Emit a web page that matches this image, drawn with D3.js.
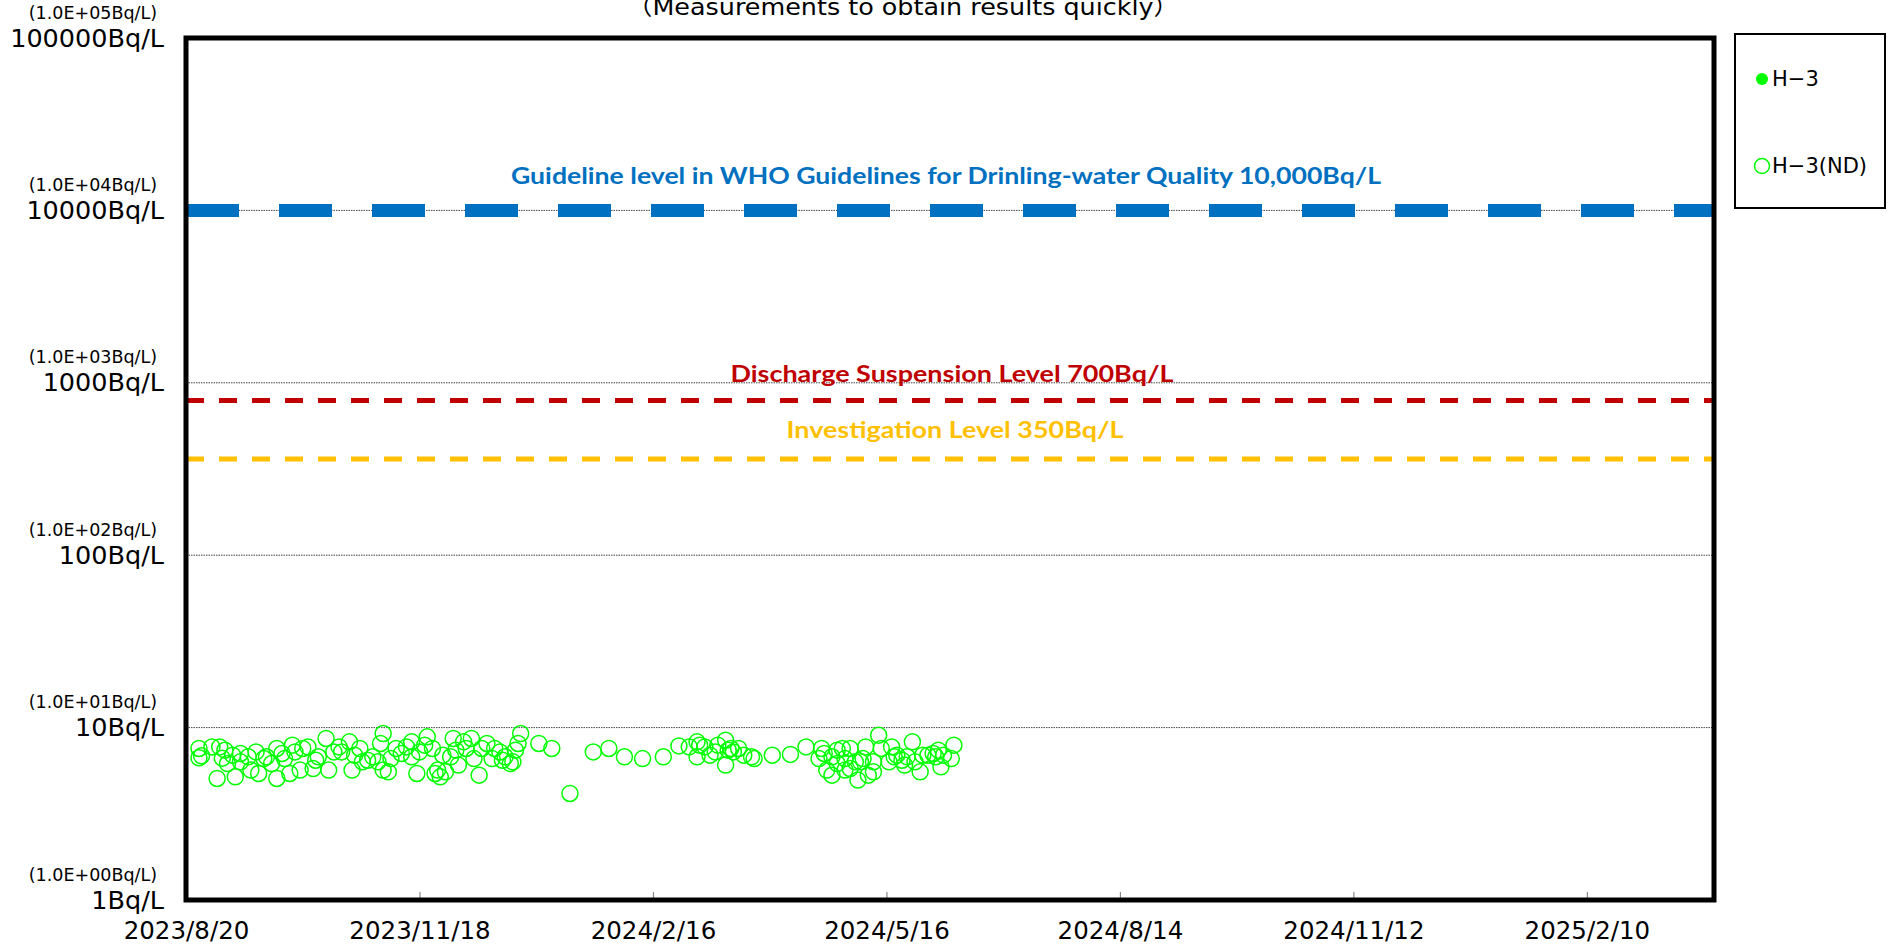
<!DOCTYPE html>
<html>
<head>
<meta charset="utf-8">
<style>
    body { margin: 0; background: white; }
    svg { display: block; }
    .axisText { font-family: "DejaVu Sans", "Noto Sans CJK JP", sans-serif; fill: black; }
    .note { font-family: Lato, "Noto Sans", sans-serif; font-weight: bold; }
</style>
<script src="https://cdn.jsdelivr.net/npm/d3@7"></script>
</head>
<body>
<svg id="chart"></svg>
<script>

// sample dates and H-3 results (all below detection limit, drawn as open circles)
let sampleDates = [
  "2023-08-25","2023-08-25","2023-08-26","2023-08-30","2023-09-01","2023-09-02","2023-09-03","2023-09-04",
  "2023-09-05","2023-09-07","2023-09-08","2023-09-10","2023-09-10","2023-09-13","2023-09-14","2023-09-16",
  "2023-09-17","2023-09-19","2023-09-20","2023-09-22","2023-09-24","2023-09-24","2023-09-26","2023-09-27",
  "2023-09-29","2023-09-30","2023-10-01","2023-10-03","2023-10-04","2023-10-06","2023-10-08","2023-10-09",
  "2023-10-10","2023-10-13","2023-10-14","2023-10-16","2023-10-18","2023-10-19","2023-10-22","2023-10-23",
  "2023-10-24","2023-10-26","2023-10-27","2023-10-29","2023-10-31","2023-11-02","2023-11-03","2023-11-04",
  "2023-11-04","2023-11-06","2023-11-07","2023-11-09","2023-11-11","2023-11-13","2023-11-15","2023-11-15",
  "2023-11-17","2023-11-18","2023-11-20","2023-11-21","2023-11-23","2023-11-24","2023-11-25","2023-11-26",
  "2023-11-27","2023-11-28","2023-11-30","2023-12-01","2023-12-02","2023-12-03","2023-12-05","2023-12-06",
  "2023-12-08","2023-12-09","2023-12-11","2023-12-12","2023-12-14","2023-12-16","2023-12-17","2023-12-19",
  "2023-12-20","2023-12-21","2023-12-23","2023-12-24","2023-12-25","2023-12-26","2023-12-27","2024-01-03",
  "2024-01-08","2024-01-15","2024-01-24","2024-01-30","2024-02-05","2024-02-12","2024-02-20","2024-02-26",
  "2024-03-01","2024-03-04","2024-03-04","2024-03-05","2024-03-07","2024-03-09","2024-03-11","2024-03-12",
  "2024-03-15","2024-03-15","2024-03-16","2024-03-17","2024-03-18","2024-03-20","2024-03-22","2024-03-25",
  "2024-03-26","2024-04-02","2024-04-09","2024-04-15","2024-04-20","2024-04-21","2024-04-22","2024-04-23",
  "2024-04-25","2024-04-25","2024-04-27","2024-04-27","2024-04-29","2024-04-30","2024-04-30","2024-05-02",
  "2024-05-02","2024-05-04","2024-05-05","2024-05-06","2024-05-07","2024-05-08","2024-05-09","2024-05-11",
  "2024-05-11","2024-05-13","2024-05-14","2024-05-17","2024-05-18","2024-05-19","2024-05-20","2024-05-22",
  "2024-05-23","2024-05-24","2024-05-26","2024-05-27","2024-05-29","2024-05-30","2024-06-01","2024-06-03",
  "2024-06-04","2024-06-05","2024-06-06","2024-06-07","2024-06-10","2024-06-11"
]

let h3NdValues = [
  6.68,7.57,6.86,7.73,5.07,7.73,6.65,7.40,
  6.19,6.92,5.18,7.08,6.33,6.77,5.67,7.23,
  5.42,6.61,6.77,6.19,7.57,5.07,7.08,6.61,
  5.42,7.91,7.23,5.67,7.57,7.73,5.79,6.47,
  6.77,8.65,5.67,7.23,7.73,7.23,8.27,5.67,
  6.92,7.57,6.33,6.47,6.77,6.33,8.09,9.24,
  5.67,5.54,6.61,7.57,7.08,7.73,8.27,6.77,
  5.42,7.23,7.91,8.84,7.57,5.42,5.67,5.18,
  6.92,5.54,6.77,8.65,7.40,6.06,8.27,7.57,
  8.65,6.61,5.30,7.57,8.09,6.61,7.57,7.23,
  6.47,6.77,6.19,6.33,7.40,8.09,9.24,8.09,
  7.57,4.15,7.23,7.57,6.77,6.61,6.77,7.83,
  7.73,8.27,6.77,7.91,7.73,6.92,7.23,7.91,
  8.45,6.06,7.40,7.57,7.23,7.57,6.92,6.77,
  6.61,6.92,6.99,7.73,6.61,7.57,7.08,5.67,
  5.30,6.77,7.40,6.19,7.57,5.67,6.61,7.57,
  5.79,6.33,4.96,6.33,6.61,7.73,5.30,5.54,
  6.33,9.04,7.57,6.33,7.73,6.77,6.92,6.47,
  6.06,6.77,8.27,6.33,5.54,6.92,6.92,7.08,
  6.77,7.40,5.92,6.92,6.61,7.91
]

// detected values: none in this period
let h3Values = []

let xTickLabels = ["2023/8/20","2023/11/18","2024/2/16","2024/5/16","2024/8/14","2024/11/12","2025/2/10"]
let xRange = ["2023/8/20", "2025/3/31"]

let yTicks = [1, 10, 100, 1000, 10000, 100000]
let yTickNotes = ["(1.0E+00Bq/L)","(1.0E+01Bq/L)","(1.0E+02Bq/L)","(1.0E+03Bq/L)","(1.0E+04Bq/L)","(1.0E+05Bq/L)"]

// reference lines; the lower two sit where they were drawn in the original
let levelNames = ["Guideline level in WHO Guidelines for Drinling-water Quality 10,000Bq/L",
                  "Discharge Suspension Level 700Bq/L",
                  "Investigation Level 350Bq/L"]
let levelValues = [10000, 790, 362]
let levelColors = ["#0070C0", "#C00000", "#FFC000"]

let legendNames = ["H\u22123", "H\u22123(ND)"]

let width = 1890, height = 949
let plotLeft = 186, plotTop = 38, plotRight = 1714, plotBottom = 900

let parseDate = d3.timeParse("%Y-%m-%d")
let parseTick = d3.timeParse("%Y/%m/%d")

let svg = d3.select("#chart").attr("width", width).attr("height", height)

let x = d3.scaleTime()
    .domain(xRange.map(parseTick))
    .range([plotLeft, plotRight])

let y = d3.scaleLog()
    .domain([1, 100000])
    .range([plotBottom, plotTop])

// dotted decade gridlines
svg.append("g")
    .selectAll("line")
    .data(yTicks.filter(d => d > 1 && d < 100000))
    .enter().append("line")
    .attr("x1", plotLeft).attr("x2", plotRight)
    .attr("y1", d => y(d)).attr("y2", d => y(d))
    .attr("stroke", "#444")
    .attr("stroke-width", 1)
    .attr("stroke-dasharray", "1.5,1")

// x axis with small inward ticks
let xAxis = d3.axisBottom(x)
    .tickValues(xTickLabels.map(parseTick))
    .tickSizeInner(-8)
    .tickSizeOuter(0)
    .tickPadding(22)
    .tickFormat(d3.timeFormat("%Y/%-m/%-d"))

let gx = svg.append("g")
    .attr("transform", `translate(0,${plotBottom})`)
    .call(xAxis)
gx.select(".domain").remove()
gx.selectAll(".tick line").attr("stroke", "#888").attr("stroke-width", 1.2)
gx.selectAll(".tick text")
    .attr("class", "axisText")
    .attr("font-size", 24.5)

// y axis: big label plus exponent note above it
let yAxis = d3.axisLeft(y)
    .tickValues(yTicks)
    .tickSize(0)
    .tickPadding(22)
    .tickFormat(d => d + "Bq/L")

let gy = svg.append("g")
    .attr("transform", `translate(${plotLeft},0)`)
    .call(yAxis)
gy.select(".domain").remove()
gy.selectAll(".tick text")
    .attr("class", "axisText")
    .attr("font-size", 25.5)
gy.selectAll(".tick")
    .append("text")
    .attr("class", "axisText")
    .attr("x", -29)
    .attr("y", -25.5)
    .attr("dy", "0.32em")
    .attr("text-anchor", "end")
    .attr("font-size", 17.5)
    .text((d, i) => yTickNotes[i])

// level lines
let dashes = ["53,40", "18,15", "18,15"]
let widths = [13, 5, 5]
svg.append("g")
    .selectAll("line")
    .data(levelValues)
    .enter().append("line")
    .attr("x1", plotLeft).attr("x2", plotRight)
    .attr("y1", d => y(d)).attr("y2", d => y(d))
    .attr("stroke", (d, i) => levelColors[i])
    .attr("stroke-width", (d, i) => widths[i])
    .attr("stroke-dasharray", (d, i) => dashes[i])

let notePos = [[946, 176, 870], [952, 374, 443], [955, 430, 337]]
svg.append("g")
    .selectAll("text")
    .data(levelNames)
    .enter().append("text")
    .attr("class", "note")
    .attr("x", (d, i) => notePos[i][0])
    .attr("y", (d, i) => notePos[i][1])
    .attr("dy", "0.35em")
    .attr("text-anchor", "middle")
    .attr("font-size", 23)
    .attr("textLength", (d, i) => notePos[i][2])
    .attr("lengthAdjust", "spacingAndGlyphs")
    .attr("fill", (d, i) => levelColors[i])
    .text(d => d)

// data points
let points = sampleDates.map((d, i) => ({date: parseDate(d), value: h3NdValues[i]}))

svg.append("g")
    .selectAll("circle")
    .data(points)
    .enter().append("circle")
    .attr("cx", d => x(d.date))
    .attr("cy", d => y(d.value))
    .attr("r", 8)
    .attr("fill", "none")
    .attr("stroke", "#00ff00")
    .attr("stroke-width", 1.5)

svg.append("g")
    .selectAll("circle")
    .data(h3Values)
    .enter().append("circle")
    .attr("cx", d => x(parseDate(d.date)))
    .attr("cy", d => y(d.value))
    .attr("r", 6)
    .attr("fill", "#00ff00")

// plot frame
svg.append("rect")
    .attr("x", plotLeft).attr("y", plotTop)
    .attr("width", plotRight - plotLeft).attr("height", plotBottom - plotTop)
    .attr("fill", "none")
    .attr("stroke", "black")
    .attr("stroke-width", 5)

// title, cut off at the top edge like the original
svg.append("text")
    .attr("class", "axisText")
    .attr("x", 903)
    .attr("y", 15)
    .attr("text-anchor", "middle")
    .attr("font-size", 23)
    .attr("textLength", 552)
    .attr("lengthAdjust", "spacingAndGlyphs")
    .text("\uFF08Measurements to obtain results quickly\uFF09")

// legend
let legend = svg.append("g")
legend.append("rect")
    .attr("x", 1735).attr("y", 34)
    .attr("width", 150).attr("height", 174)
    .attr("fill", "white")
    .attr("stroke", "black")
    .attr("stroke-width", 2)

let items = legend.selectAll(".item")
    .data(legendNames)
    .enter().append("g")
    .attr("transform", (d, i) => `translate(1762,${79 + i * 87})`)

items.append("circle")
    .attr("r", (d, i) => i == 0 ? 6 : 7.5)
    .attr("fill", (d, i) => i == 0 ? "#00ff00" : "none")
    .attr("stroke", "#00ff00")
    .attr("stroke-width", (d, i) => i == 0 ? 0 : 1.5)

items.append("text")
    .attr("class", "axisText")
    .attr("x", 10)
    .attr("dy", "0.35em")
    .attr("font-size", 21)
    .text(d => d)

</script>
</body>
</html>
